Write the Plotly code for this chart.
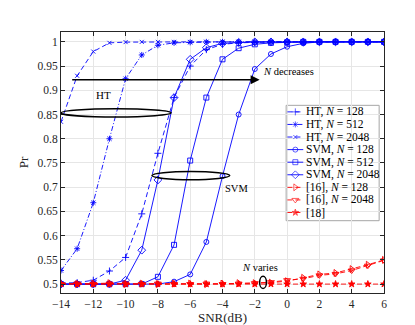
import plotly.graph_objects as go

# SNR points (dB)
snr = [-14, -13, -12, -11, -10, -9, -8, -7, -6, -5, -4, -3, -2, -1, 0, 1, 2, 3, 4, 5, 6]

# detection probability
ht_128 = [0.502, 0.503, 0.508, 0.527, 0.555, 0.645, 0.770, 0.885, 0.950, 0.984, 0.995,
          0.998, 0.999, 1.0, 1.0, 1.0, 1.0, 1.0, 1.0, 1.0, 1.0]
ht_512 = [0.528, 0.573, 0.668, 0.800, 0.924, 0.973, 0.993, 0.998, 0.999, 1.0, 1.0,
          1.0, 1.0, 1.0, 1.0, 1.0, 1.0, 1.0, 1.0, 1.0, 1.0]
ht_2048 = [0.835, 0.930, 0.980, 0.998, 0.9995, 1.0, 1.0, 1.0, 1.0, 1.0, 1.0,
           1.0, 1.0, 1.0, 1.0, 1.0, 1.0, 1.0, 1.0, 1.0, 1.0]
svm_128 = [0.5, 0.5, 0.5, 0.5, 0.5, 0.5, 0.5, 0.505, 0.52, 0.587, 0.723,
           0.85, 0.944, 0.975, 0.99, 0.997, 1.0, 1.0, 1.0, 1.0, 1.0]
svm_512 = [0.5, 0.5, 0.5, 0.5, 0.5, 0.5, 0.515, 0.581, 0.755, 0.885, 0.964,
           0.987, 0.995, 0.998, 0.999, 1.0, 1.0, 1.0, 1.0, 1.0, 1.0]
svm_2048 = [0.5, 0.5, 0.5, 0.5, 0.508, 0.57, 0.715, 0.885, 0.964, 0.988, 0.997,
            0.999, 1.0, 1.0, 1.0, 1.0, 1.0, 1.0, 1.0, 1.0, 1.0]
ref16_128 = [0.501, 0.5, 0.501, 0.502, 0.5, 0.501, 0.5, 0.501, 0.501, 0.5, 0.501,
             0.502, 0.502, 0.503, 0.506, 0.513, 0.52, 0.523, 0.531, 0.54, 0.55]
ref16_2048 = [0.5, 0.501, 0.5, 0.501, 0.501, 0.5, 0.501, 0.5, 0.5, 0.501, 0.5,
              0.501, 0.502, 0.504, 0.508, 0.511, 0.518, 0.521, 0.528, 0.538, 0.549]
ref18 = [0.5, 0.5, 0.5, 0.5, 0.5, 0.5, 0.5, 0.5, 0.5, 0.5, 0.5,
         0.5, 0.5, 0.5, 0.5, 0.5, 0.5, 0.5, 0.5, 0.5, 0.5]

x_ticks = [-14, -12, -10, -8, -6, -4, -2, 0, 2, 4, 6]
y_ticks = [0.5, 0.55, 0.6, 0.65, 0.7, 0.75, 0.8, 0.85, 0.9, 0.95, 1.0]
y_labels = ["0.5", "0.55", "0.6", "0.65", "0.7", "0.75", "0.8", "0.85", "0.9", "0.95", "1"]

BLUE = "#0000ff"
RED = "#ff0000"
DASH = "5px,3px"
DASHDOT = "5px,2px,1px,2px"
FONT = "Liberation Serif, Times New Roman, serif"

curves = [
    ("HT, <i>N</i> = 128", ht_128, BLUE, DASH, "cross-thin-open", 5),
    ("HT, <i>N</i> = 512", ht_512, BLUE, DASHDOT, "asterisk-open", 5),
    ("HT, <i>N</i> = 2048", ht_2048, BLUE, DASH, "x-thin-open", 4),
    ("SVM, <i>N</i> = 128", svm_128, BLUE, "solid", "circle-open", 5),
    ("SVM, <i>N</i> = 512", svm_512, BLUE, "solid", "square-open", 5),
    ("SVM, <i>N</i> = 2048", svm_2048, BLUE, "solid", "diamond-open", 6),
    ("[16], <i>N</i> = 128", ref16_128, RED, DASH, "triangle-right-open", 6),
    ("[16], <i>N</i> = 2048", ref16_2048, RED, DASH, "triangle-down-open", 6),
    ("[18]", ref18, RED, DASH, "star", 5),
]

fig = go.Figure()
for name, vals, col, dash, sym, sz in curves:
    fig.add_trace(go.Scatter(
        x=snr, y=vals, mode="lines+markers", name=name, showlegend=False,
        line=dict(color=col, width=0.9, dash=dash),
        marker=dict(symbol=sym, size=sz, color=col, line=dict(color=col, width=0.9)),
    ))

# hand-built legend (matlab style, tight rows)
lx0, lx1, ly0, ly1 = 0.697, 0.985, 0.277, 0.719
row0, row_step = 0.694, 0.0482
fig.add_shape(type="rect", xref="paper", yref="paper", x0=lx0, x1=lx1, y0=ly0, y1=ly1,
              fillcolor="white", line=dict(color="#a6a6a6", width=1), layer="between")
for i, (name, vals, col, dash, sym, sz) in enumerate(curves):
    ry = row0 - i * row_step
    fig.add_trace(go.Scatter(
        x=[0.701, 0.7255, 0.750], y=[ry, ry, ry], xaxis="x2", yaxis="y2",
        mode="lines+markers", showlegend=False, hoverinfo="skip",
        line=dict(color=col, width=0.9, dash=dash),
        marker=dict(symbol=sym, size=[0, sz, 0], color=col, line=dict(color=col, width=0.9)),
    ))
    fig.add_annotation(x=0.753, y=ry, xref="paper", yref="paper", text=name,
                       showarrow=False, xanchor="left", yanchor="middle",
                       font=dict(family=FONT, size=11.5, color="black"))

# ellipses and arrow annotations
fig.add_shape(type="circle", x0=-14.0, x1=-7.18, y0=0.845, y1=0.862,
              line=dict(color="black", width=1.5))
fig.add_shape(type="circle", x0=-8.37, x1=-3.55, y0=0.7155, y1=0.7325,
              line=dict(color="black", width=1.5))
fig.add_shape(type="circle", x0=-1.70, x1=-1.28, y0=0.491, y1=0.516,
              line=dict(color="black", width=1.5))
fig.add_annotation(x=-1.7, y=0.922, ax=-13.4, ay=0.922, axref="x", ayref="y",
                   text="", showarrow=True, arrowhead=2, arrowsize=1.2,
                   arrowwidth=1.5, arrowcolor="black")
fig.add_annotation(x=-1.6, y=0.939, text="<i>N</i> decreases", showarrow=False,
                   xanchor="left", font=dict(family=FONT, size=10.5, color="black"))
fig.add_annotation(x=-11.37, y=0.89, text="HT", showarrow=False,
                   font=dict(family=FONT, size=11, color="black"))
fig.add_annotation(x=-3.16, y=0.697, text="SVM", showarrow=False,
                   font=dict(family=FONT, size=10.5, color="black"))
fig.add_annotation(x=-1.69, y=0.534, text="<i>N</i> varies", showarrow=False,
                   font=dict(family=FONT, size=10.5, color="black"))

axis_common = dict(
    showgrid=True, gridcolor="#e6e6e6", gridwidth=1, zeroline=False,
    showline=True, linecolor="#262626", linewidth=1, mirror="ticks",
    ticks="inside", ticklen=4, tickcolor="#262626",
    tickfont=dict(family=FONT, size=11.5, color="#262626"),
)
fig.update_layout(
    width=415, height=325,
    margin=dict(l=53, r=39, t=24, b=37),
    paper_bgcolor="white", plot_bgcolor="white",
    font=dict(family=FONT, color="#262626"),
    xaxis=dict(range=[-14, 6], tickvals=x_ticks,
               title=dict(text="SNR(dB)", font=dict(family=FONT, size=13), standoff=2),
               **axis_common),
    yaxis=dict(range=[0.4816, 1.0204], tickvals=y_ticks, ticktext=y_labels,
               title=dict(text="Pr", font=dict(family=FONT, size=13), standoff=6),
               **axis_common),
    xaxis2=dict(overlaying="x", range=[0, 1], visible=False),
    yaxis2=dict(overlaying="y", range=[0, 1], visible=False),
)

fig.write_html("out.html")
